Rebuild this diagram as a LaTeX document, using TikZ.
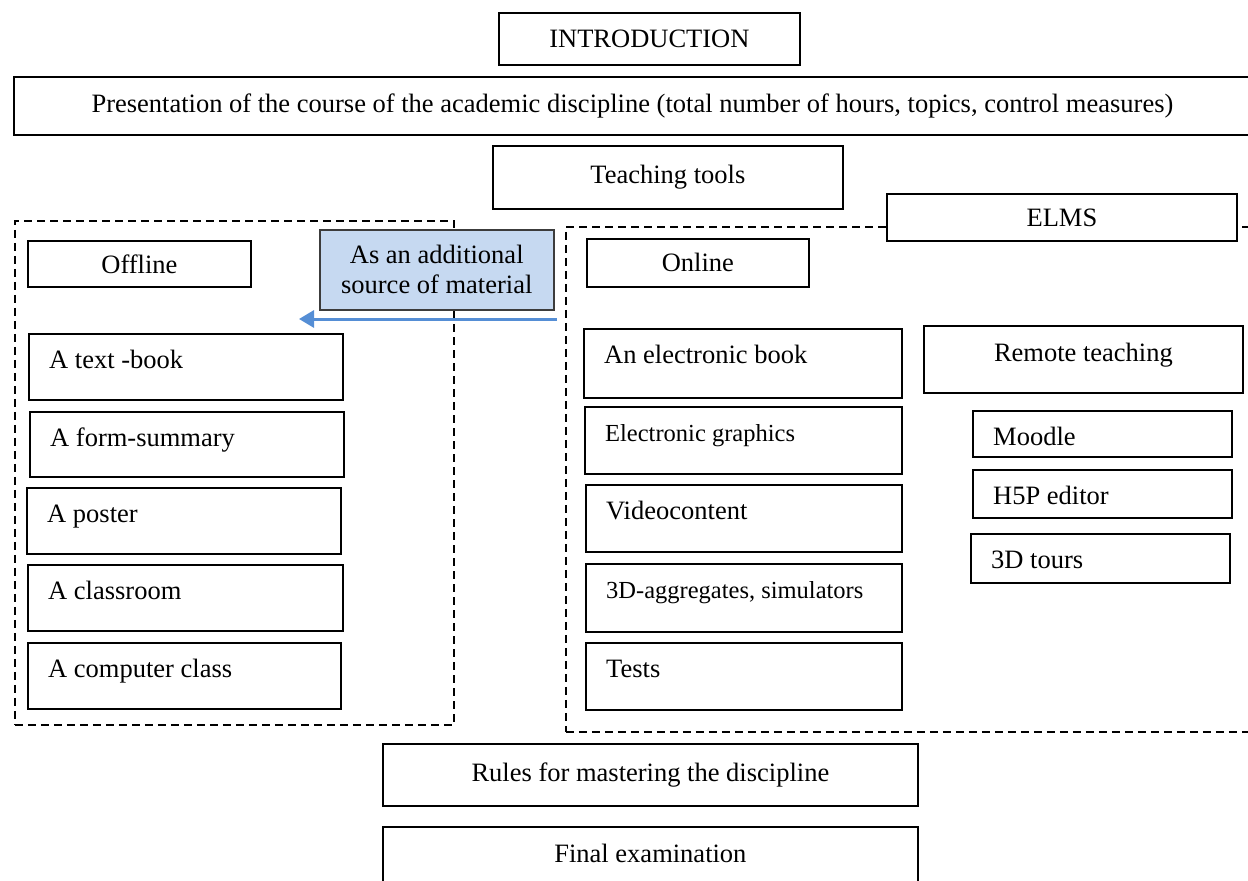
\documentclass[tikz,border=0pt]{standalone}
\usepackage{fontspec}
\setmainfont{Liberation Serif}
\usetikzlibrary{arrows.meta}
\definecolor{bluefill}{RGB}{198,217,241}
\definecolor{arrowblue}{RGB}{85,142,213}
\definecolor{boxgray}{RGB}{60,60,60}
\newcommand\fmain{\fontsize{26.5}{30}\selectfont}
\newcommand\fsmall{\fontsize{24.5}{28}\selectfont}
\tikzset{
  box/.style={draw=black, line width=1.8pt, inner sep=0pt, anchor=north west, fill=white, font=\fmain},
  dgroup/.style={draw=black, line width=1.8pt, dash pattern=on 8pt off 5pt, inner sep=0pt, anchor=north west},
  lbl/.style={anchor=base west, inner sep=0pt, font=\fmain},
  clbl/.style={anchor=base, inner sep=0pt, font=\fmain},
  note/.style={draw=boxgray, line width=1.5pt, fill=bluefill, inner sep=0pt, anchor=north west, font=\fmain, align=center},
  flow/.style={draw=arrowblue, line width=3pt, -{Triangle[length=15pt,width=17pt]}}
}
% centred box: name, x1, y1, x2, y2, text
\newcommand\cbx[6]{\node[box, minimum width={#4-#2}, minimum height={#5-#3}] (#1) at (#2,#3) {#6};}
% left-aligned text box
\newcommand\lbx[7][\fmain]{\node[box, minimum width={#5-#3}, minimum height={#6-#4}] (#2) at (#3,#4) {};
  \node[lbl, font=#1] (#2-t) at ([xshift=21pt, yshift=-35.5pt]#2.north west) {#7};}
\begin{document}
\begin{tikzpicture}[x=1pt, y=-1pt]
\useasboundingbox (0,0) rectangle (1248,881);
\clip (0,0) rectangle (1248,881);

\cbx{intro}{498}{12}{799}{64}{INTRODUCTION}
\cbx{pres}{13}{76}{1250}{134}{Presentation of the course of the academic discipline (total number of hours, topics, control measures)}
\cbx{tools}{492}{145}{842}{208}{Teaching tools}

% groups
\node[dgroup, minimum width=439, minimum height=504] (offgrp) at (14,220) {};
\node[dgroup, minimum width=720, minimum height=505] (ongrp) at (565,226) {};

\cbx{elms}{886}{193}{1236}{240}{ELMS}
\cbx{offline}{27}{240}{250}{286}{Offline}
\cbx{online}{586}{238}{808}{286}{Online}

\node[note, minimum width=234, minimum height=80] (add) at (319,229) {As an additional\\source of material};

\coordinate (arrS) at (557,319);
\coordinate (arrE) at (299,319);
\draw[flow] (arrS) -- (arrE);

% offline items
\lbx{tb}{28}{333}{342}{399}{A text -book}
\lbx{fs}{29}{411}{343}{476}{A form-summary}
\lbx{po}{26}{487}{340}{553}{A poster}
\lbx{cr}{27}{564}{342}{630}{A classroom}
\lbx{cc}{27}{642}{340}{708}{A computer class}

% online items
\lbx{eb}{583}{328}{901}{397}{An electronic book}
\lbx[\fsmall]{eg}{584}{406}{901}{473}{Electronic graphics}
\lbx{vc}{585}{484}{901}{551}{Videocontent}
\lbx[\fsmall]{ag}{585}{563}{901}{631}{3D-aggregates, simulators}
\lbx{ts}{585}{642}{901}{709}{Tests}

% remote
\node[box, minimum width=319, minimum height=67] (remote) at (923,325) {};
\node[clbl] (remote-t) at ([yshift=-36pt]remote.north) {Remote teaching};
\lbx{moodle}{972}{410}{1231}{456}{Moodle}
\lbx{h5p}{972}{469}{1231}{517}{H5P editor}
\lbx{tours}{970}{533}{1229}{582}{3D tours}

% bottom
\cbx{rules}{382}{743}{917}{805}{Rules for mastering the discipline}
\node[box, minimum width=535, minimum height=70] (final) at (382,826) {};
\node[clbl] (final-t) at ([yshift=-36pt]final.north) {Final examination};
\end{tikzpicture}
\end{document}
